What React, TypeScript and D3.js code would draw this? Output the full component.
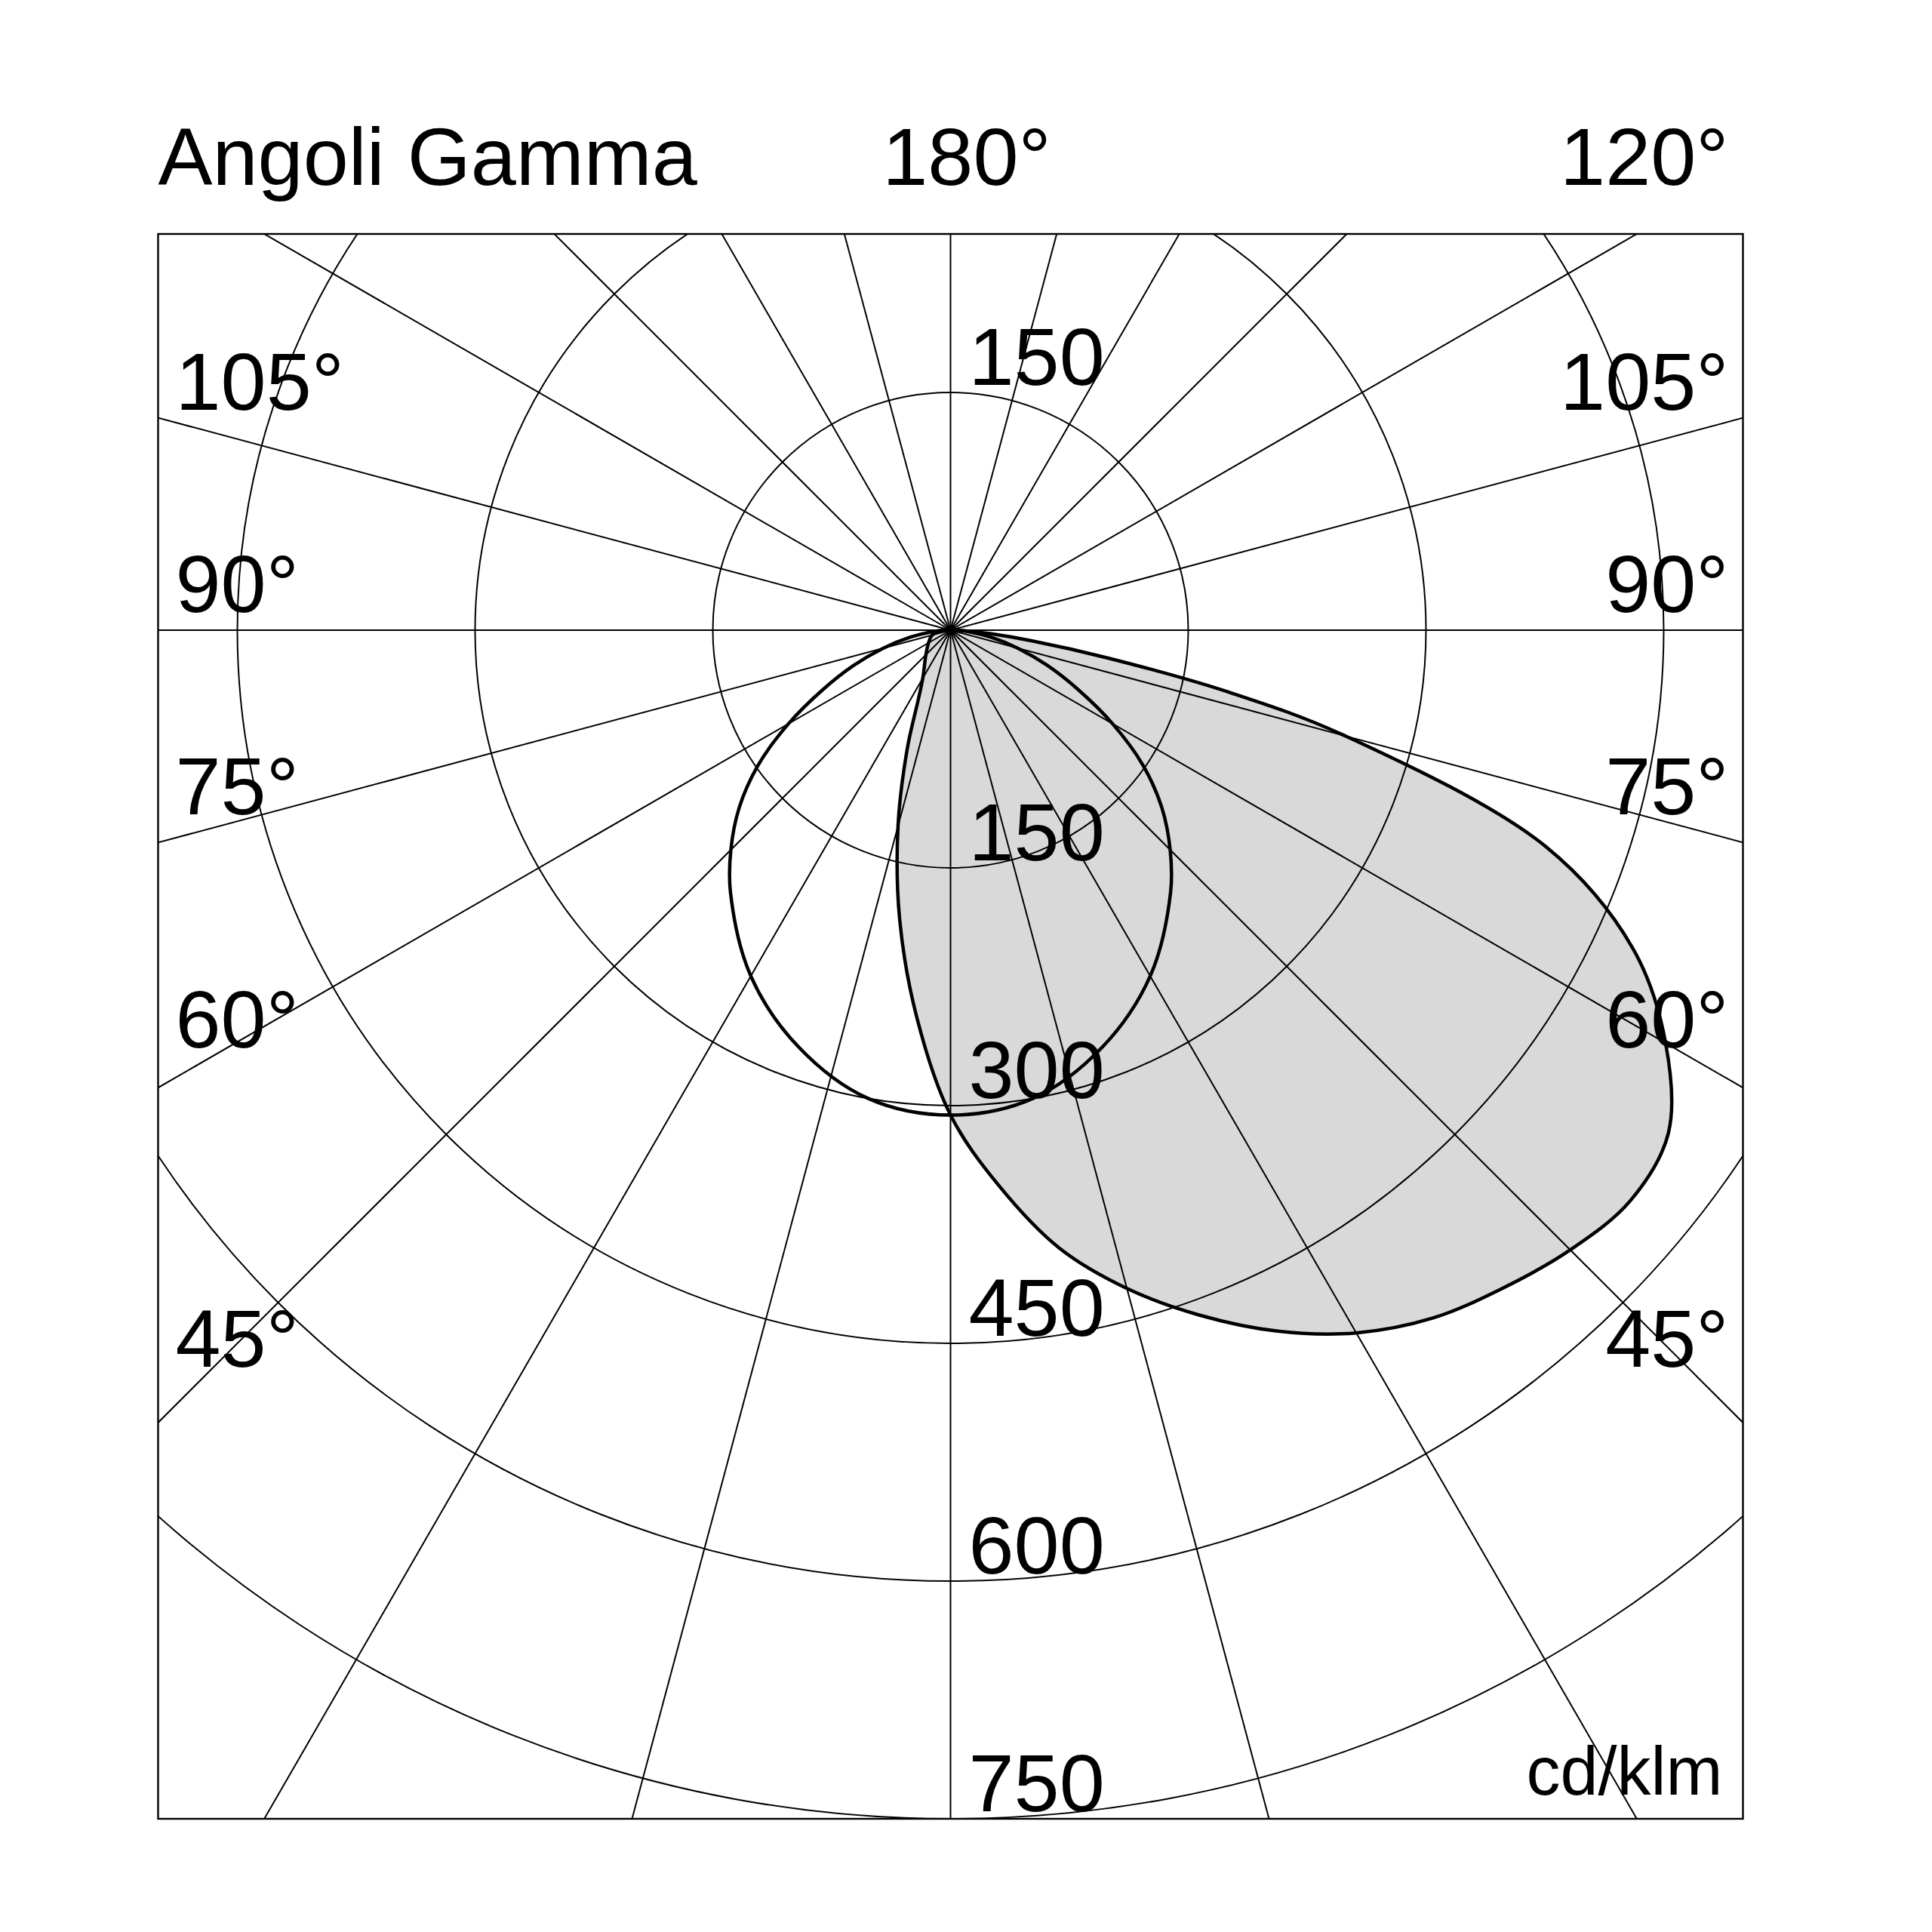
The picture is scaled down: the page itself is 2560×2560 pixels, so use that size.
import React from "react";
import * as d3 from "d3";

// ---- data ----
const ringValues = [150, 300, 450, 600, 750];
const spokeAngles = d3.range(0, 360, 15);
const sideLabels = ["105°", "90°", "75°", "60°", "45°"];
const sideLabelGamma = [105, 90, 75, 60, 45];
const topLabels = ["Angoli Gamma", "180°", "120°"];
const unitLabel = "cd/klm";

// asymmetric plane (filled lobe): gamma (deg from nadir, + to the right) and cd/klm
const lobeGamma = [-90, -75, -60, -45, -30, -25, -20, -15, -10, -5, 0, 5, 10, 15, 20, 25, 30, 35, 40, 45, 50, 55, 60, 65, 70, 75, 77.5, 80, 82.5, 85, 87.5, 90];
const lobeIntensity = [5, 12, 16, 22, 35, 48, 80, 128, 185, 245, 306, 352, 396, 430, 460, 488, 512, 530, 542, 553, 560, 553, 521, 475, 400, 258, 178, 100, 52, 25, 10, 3];

// symmetric plane (outline)
const symGamma = [-90, -85, -80, -75, -70, -65, -60, -55, -50, -45, -40, -30, -20, -10, 0, 10, 20, 30, 40, 45, 50, 55, 60, 65, 70, 75, 80, 85, 90];
const symIntensity = [3, 12, 26, 44, 65, 89, 118, 148, 174, 196, 216, 252, 280, 300, 306, 300, 280, 252, 216, 196, 174, 148, 118, 89, 65, 44, 26, 12, 3];

export default function App() {
  const W = 2560;
  const cx = 1259.5;
  const cy = 835;
  const r = d3.scaleLinear().domain([0, 750]).range([0, 1575]);
  // box in value units: x in [-500,500], y in [-250,750]
  const left = cx - r(500);
  const right = cx + r(500);
  const top = cy - r(250);
  const bottom = cy + r(750);

  const font = "'Liberation Sans', Arial, Helvetica, sans-serif";
  const fs = 108;

  const radial = (g: number[], v: number[]) =>
    d3
      .lineRadial<number>()
      .angle((_, i) => Math.PI - (g[i] * Math.PI) / 180)
      .radius((d) => r(d))
      .curve(d3.curveCatmullRomClosed.alpha(0.5))(v) || "";

  const lobePath = radial(lobeGamma, lobeIntensity);
  const symPath = radial(symGamma, symIntensity);

  const labelY = (gamma: number) => {
    const phi = ((90 - gamma) * Math.PI) / 180; // angle below horizontal
    return cy - 24 + 1000 * Math.tan(phi);
  };

  return (
    <svg
      width={W}
      height={W}
      viewBox={`0 0 ${W} ${W}`}
      style={{ position: "absolute", left: 0, top: 0, background: "#fff" }}
    >
      <defs>
        <clipPath id="box">
          <rect x={left} y={top} width={right - left} height={bottom - top} />
        </clipPath>
      </defs>
      <rect x={0} y={0} width={W} height={W} fill="#fff" />
      <g clipPath="url(#box)">
        <path d={lobePath} transform={`translate(${cx},${cy})`} fill="#d9d9d9" stroke="none" />
        {ringValues.map((v) => (
          <circle key={v} cx={cx} cy={cy} r={r(v)} fill="none" stroke="#000" strokeWidth={2} />
        ))}
        {spokeAngles.map((a) => {
          const rad = (a * Math.PI) / 180;
          return (
            <line
              key={a}
              x1={cx}
              y1={cy}
              x2={cx + 3000 * Math.sin(rad)}
              y2={cy + 3000 * Math.cos(rad)}
              stroke="#000"
              strokeWidth={2}
            />
          );
        })}
        <path d={lobePath} transform={`translate(${cx},${cy})`} fill="none" stroke="#000" strokeWidth={4.5} strokeLinejoin="round" />
        <path d={symPath} transform={`translate(${cx},${cy})`} fill="none" stroke="#000" strokeWidth={4.5} strokeLinejoin="round" />
      </g>
      <rect x={left} y={top} width={right - left} height={bottom - top} fill="none" stroke="#000" strokeWidth={2.4} />

      <g fontFamily={font} fontSize={fs} fill="#000">
        <text x={left} y={245}>{topLabels[0]}</text>
        <text x={1281} y={245} textAnchor="middle">{topLabels[1]}</text>
        <text x={right - 19} y={245} textAnchor="end">{topLabels[2]}</text>

        {sideLabels.map((t, i) => (
          <g key={t}>
            <text x={left + 23} y={labelY(sideLabelGamma[i])}>{t}</text>
            <text x={right - 19} y={labelY(sideLabelGamma[i])} textAnchor="end">{t}</text>
          </g>
        ))}

        <text x={cx + 24} y={cy - r(150) - 10}>{ringValues[0]}</text>
        {ringValues.map((v) => (
          <text key={v} x={cx + 24} y={cy + r(v) - 10}>{v}</text>
        ))}
        <text x={right - 27} y={2378} textAnchor="end" fontSize={90}>{unitLabel}</text>
      </g>
    </svg>
  );
}
